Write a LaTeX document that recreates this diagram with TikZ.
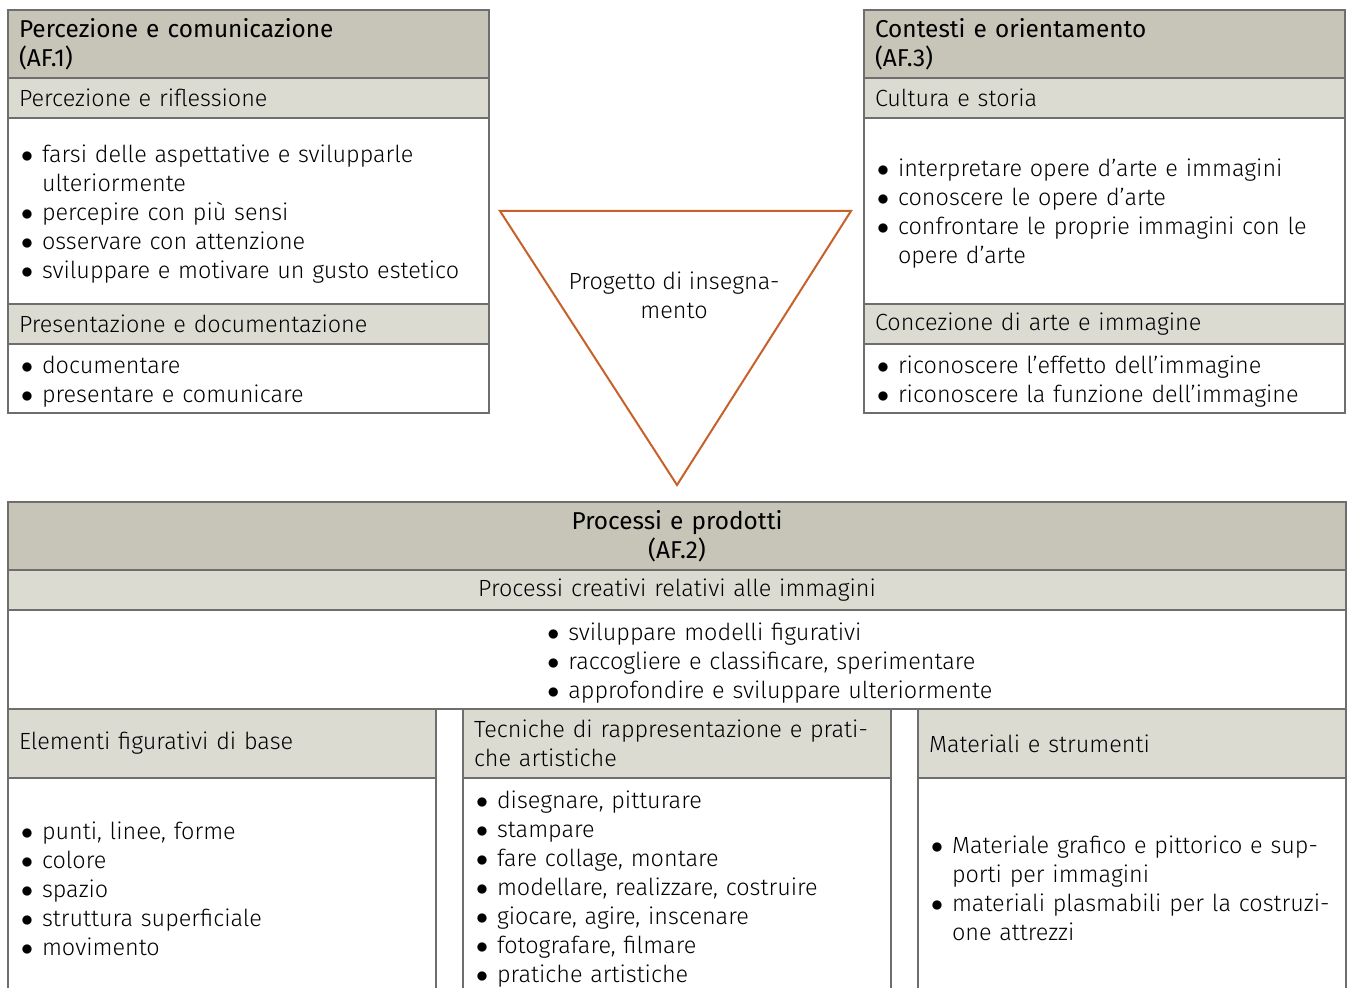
\documentclass[tikz,border=0pt]{standalone}
\usepackage{fontspec}
\setmainfont{Fira Sans Light}
\newfontfamily\hdfont{Fira Sans}
\usepackage{tikz}
\usetikzlibrary{positioning}
\definecolor{framegray}{HTML}{6E6E6E}
\definecolor{darkfill}{HTML}{C6C5B8}
\definecolor{lightfill}{HTML}{DCDBD2}
\definecolor{rust}{HTML}{C8602A}
\newcommand{\txtsize}{\fontsize{11.7}{14.5}\selectfont}
\newcommand{\hdsize}{\fontsize{12.2}{14.5}\selectfont}
\newcommand{\itm}{\par\noindent\hangindent=11.5pt\hangafter=1\makebox[11.5pt][l]{\hspace{1pt}$\bullet$}}
\newcommand{\lstend}{\par\vspace{3pt}\hrule height 0pt width 0pt}
\tikzstyle{band}=[draw=framegray, line width=0.6pt, outer sep=0pt, inner xsep=5.5pt, inner ysep=0pt, anchor=north west, align=left, text width=229.5pt, font=\txtsize]
\tikzstyle{dark band}=[band, fill=darkfill, minimum height=34pt, font=\hdfont\hdsize]
\tikzstyle{light band}=[band, fill=lightfill, minimum height=20pt]
\tikzstyle{body band}=[band, fill=white]
\tikzstyle{wide}=[text width=658pt, align=center]
\tikzstyle{col}=[text width=203pt]

\begin{document}
\begin{tikzpicture}[x=0.5pt, y=-0.5pt]
		\useasboundingbox (0,0) rectangle (1348,988);

		% AF.1
		\node [style=dark band] (l0) at (8,10) {Percezione e comunicazione\\(AF.1)};
		\node [style=light band, below=0pt of l0] (l1) {Percezione e riflessione};
		\node [style=body band, minimum height=93pt, below=0pt of l1] (l2) {\itm farsi delle aspettative e svilupparle\newline ulteriormente
			\itm percepire con più sensi
			\itm osservare con attenzione
			\itm sviluppare e motivare un gusto estetico\lstend};
		\node [style=light band, below=0pt of l2] (l3) {Presentazione e documentazione};
		\node [style=body band, minimum height=34.5pt, below=0pt of l3] (l4) {\itm documentare
			\itm presentare e comunicare\lstend};

		% AF.3
		\node [style=dark band] (r0) at (864,10) {Contesti e orientamento\\(AF.3)};
		\node [style=light band, below=0pt of r0] (r1) {Cultura e storia};
		\node [style=body band, minimum height=93pt, below=0pt of r1] (r2) {\itm interpretare opere d’arte e immagini
			\itm conoscere le opere d’arte
			\itm confrontare le proprie immagini con le\newline opere d’arte\lstend};
		\node [style=light band, below=0pt of r2] (r3) {Concezione di arte e immagine};
		\node [style=body band, minimum height=34.5pt, below=0pt of r3] (r4) {\itm riconoscere l’effetto dell’immagine
			\itm riconoscere la funzione dell’immagine\lstend};

		% triangle
		\coordinate (t0) at (500,211);
		\coordinate (t1) at (851,211);
		\coordinate (t2) at (677,485);
		\draw [draw=rust, line width=1pt, line join=miter] (t0) -- (t1) -- (t2) -- cycle;
		\node [font=\txtsize, align=center] (t3) at (674,295) {Progetto di insegna-\\mento};

		% AF.2
		\node [style=dark band, style=wide] (p0) at (8,502) {Processi e prodotti\\(AF.2)};
		\node [style=light band, style=wide, below=0pt of p0] (p1) {Processi creativi relativi alle immagini};
		\node [style=body band, style=wide, minimum height=49.5pt, below=0pt of p1] (p2) {};
		\node [font=\txtsize, align=left, text width=240pt, inner sep=0pt, anchor=west] (p3) at (545,657) {\itm sviluppare modelli figurativi
			\itm raccogliere e classificare, sperimentare
			\itm approfondire e sviluppare ulteriormente\par};

		\node [style=light band, style=col, minimum height=34.5pt] (c1) at (8,709) {Elementi figurativi di base};
		\node [style=light band, style=col, minimum height=34.5pt] (c2) at (463,709) {Tecniche di rappresentazione e prati-\\che artistiche};
		\node [style=light band, style=col, minimum height=34.5pt] (c3) at (918,709) {Materiali e strumenti};
		\node [style=body band, style=col, minimum height=108pt, below=0pt of c1] (d1) {\itm punti, linee, forme
			\itm colore
			\itm spazio
			\itm struttura superficiale
			\itm movimento\lstend};
		\node [style=body band, style=col, minimum height=108pt, below=0pt of c2] (d2) {\itm disegnare, pitturare
			\itm stampare
			\itm fare collage, montare
			\itm modellare, realizzare, costruire
			\itm giocare, agire, inscenare
			\itm fotografare, filmare
			\itm pratiche artistiche\lstend};
		\node [style=body band, style=col, minimum height=108pt, below=0pt of c3] (d3) {\itm Materiale grafico e pittorico e sup-\newline porti per immagini
			\itm materiali plasmabili per la costruzi-\newline one attrezzi\lstend};

\end{tikzpicture}
\end{document}
